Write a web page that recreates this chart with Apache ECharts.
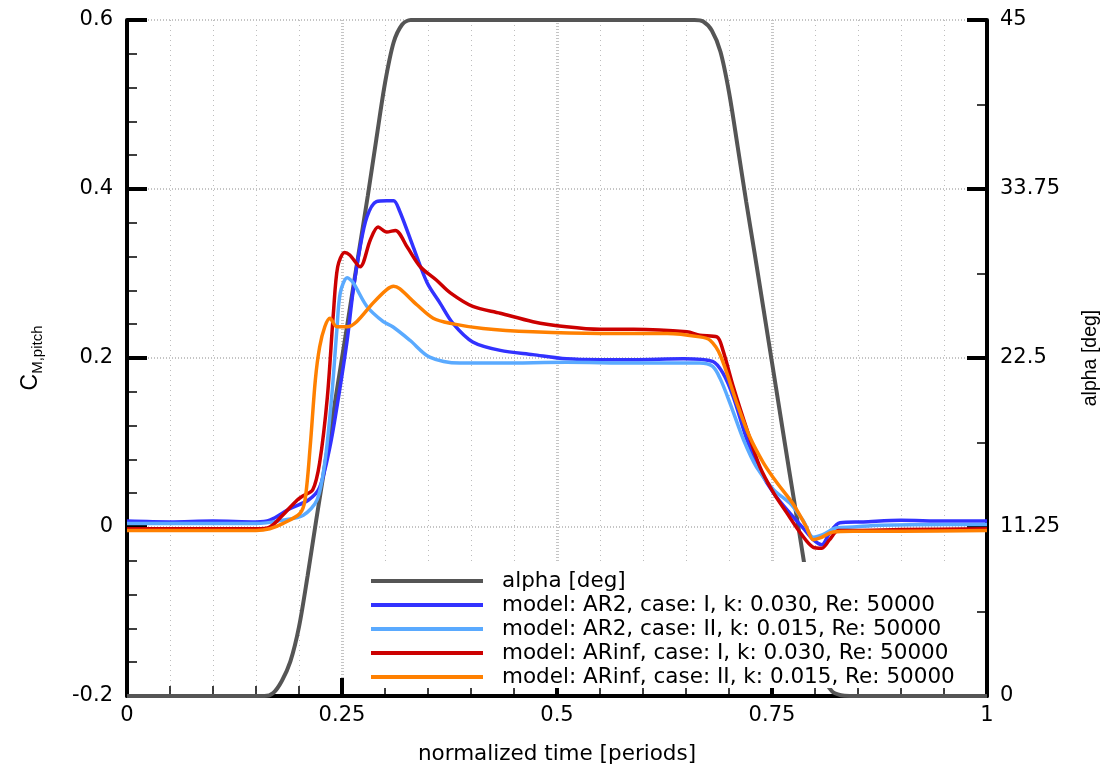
<!DOCTYPE html>
<html>
<head>
<meta charset="utf-8">
<script src="https://cdn.jsdelivr.net/npm/echarts@6/dist/echarts.min.js"></script>
<style>
html,body{margin:0;padding:0;background:#fff;}
#chart{width:1113px;height:773px;}
</style>
</head>
<body>
<div id="chart"></div>
<script>
// ---- Data ----
const xTicks = [0, 0.25, 0.5, 0.75, 1];
const leftTicks = [-0.2, 0, 0.2, 0.4, 0.6];
const rightTicks = [0, 11.25, 22.5, 33.75, 45];

const seriesNames = [
  'alpha [deg]',
  'model: AR2, case: I, k: 0.030, Re: 50000',
  'model: AR2, case: II, k: 0.015, Re: 50000',
  'model: ARinf, case: I, k: 0.030, Re: 50000',
  'model: ARinf, case: II, k: 0.015, Re: 50000'
];
const seriesColors = ['#555555', '#3232ff', '#5aaaff', '#cc0000', '#ff8000'];

const tAlpha = [0, 0.16, 0.17, 0.18, 0.19, 0.2, 0.21, 0.22, 0.23, 0.24, 0.25, 0.26, 0.27, 0.28, 0.29, 0.3, 0.31, 0.32, 0.33,
  0.66, 0.67, 0.68, 0.69, 0.7, 0.71, 0.72, 0.73, 0.74, 0.75, 0.76, 0.77, 0.78, 0.79, 0.8, 0.81, 0.82, 0.83, 0.84, 1];
const alphaDeg = [0, 0, 0.2, 1.0, 2.3, 4.6, 8.0, 11.7, 15.3, 18.9, 22.5, 26.1, 29.7, 33.3, 37.1, 40.8, 43.5, 44.7, 45,
  45, 44.9, 44.3, 42.9, 40.2, 36.6, 32.9, 29.4, 25.8, 22.2, 18.6, 15.0, 11.5, 7.9, 4.3, 1.3, 0.3, 0.05, 0, 0];

const tAR2I = [0, 0.05, 0.1, 0.15, 0.166, 0.19, 0.211, 0.224, 0.236, 0.246, 0.256, 0.263, 0.271, 0.279, 0.29, 0.302, 0.31, 0.317,
  0.333, 0.349, 0.364, 0.379, 0.402, 0.434, 0.472, 0.511, 0.55, 0.589, 0.647, 0.681, 0.693, 0.705, 0.721, 0.736, 0.752, 0.771,
  0.786, 0.798, 0.808, 0.817, 0.829, 0.856, 0.9, 0.95, 1];
const cmAR2I = [0.007, 0.006, 0.007, 0.006, 0.008, 0.022, 0.032, 0.047, 0.095, 0.154, 0.221, 0.28, 0.331, 0.367, 0.385, 0.386, 0.386, 0.374,
  0.331, 0.289, 0.265, 0.241, 0.219, 0.209, 0.204, 0.199, 0.198, 0.198, 0.199, 0.196, 0.182, 0.154, 0.103, 0.067, 0.040, 0.016,
  -0.001, -0.015, -0.021, -0.007, 0.005, 0.006, 0.008, 0.007, 0.007];

const tAR2II = [0, 0.05, 0.1, 0.15, 0.181, 0.205, 0.221, 0.23, 0.238, 0.244, 0.248, 0.256, 0.263, 0.279, 0.298, 0.309, 0.329, 0.352,
  0.387, 0.434, 0.511, 0.589, 0.666, 0.681, 0.69, 0.701, 0.717, 0.732, 0.752, 0.771, 0.786, 0.798, 0.809, 0.825, 0.844, 0.876, 0.95, 1];
const cmAR2II = [0.004, 0.004, 0.004, 0.004, 0.008, 0.014, 0.032, 0.076, 0.154, 0.233, 0.277, 0.295, 0.289, 0.261, 0.243, 0.237, 0.221, 0.201,
  0.194, 0.194, 0.195, 0.194, 0.194, 0.19, 0.175, 0.147, 0.103, 0.071, 0.044, 0.028, 0.008, -0.012, -0.009, -0.001, 0.0, 0.002, 0.003, 0.003];

const tARinfI = [0, 0.05, 0.1, 0.15, 0.166, 0.181, 0.198, 0.205, 0.216, 0.224, 0.233, 0.24, 0.245, 0.253, 0.259, 0.271, 0.283, 0.292,
  0.302, 0.312, 0.326, 0.341, 0.36, 0.376, 0.402, 0.434, 0.472, 0.511, 0.55, 0.589, 0.651, 0.666, 0.686, 0.693, 0.705, 0.721, 0.736,
  0.752, 0.767, 0.783, 0.798, 0.808, 0.817, 0.827, 0.844, 0.9, 1];
const cmARinfI = [-0.002, -0.002, -0.002, -0.002, 0.0, 0.014, 0.032, 0.037, 0.044, 0.076, 0.154, 0.253, 0.308, 0.325, 0.322, 0.308, 0.34, 0.355,
  0.349, 0.351, 0.331, 0.308, 0.292, 0.277, 0.261, 0.253, 0.243, 0.237, 0.234, 0.234, 0.231, 0.227, 0.225, 0.209, 0.166, 0.115, 0.071,
  0.040, 0.017, -0.007, -0.024, -0.025, -0.015, -0.004, -0.004, -0.003, -0.002];

const tARinfII = [0, 0.05, 0.1, 0.15, 0.166, 0.181, 0.201, 0.207, 0.213, 0.219, 0.224, 0.23, 0.236, 0.244, 0.256, 0.267, 0.286, 0.302,
  0.31, 0.317, 0.337, 0.356, 0.376, 0.414, 0.472, 0.55, 0.628, 0.666, 0.678, 0.69, 0.709, 0.724, 0.74, 0.756, 0.774, 0.79, 0.798,
  0.806, 0.821, 0.844, 0.9, 1];
const cmARinfII = [-0.004, -0.004, -0.004, -0.004, -0.002, 0.004, 0.016, 0.032, 0.095, 0.174, 0.213, 0.237, 0.247, 0.237, 0.237, 0.243, 0.265, 0.281,
  0.285, 0.282, 0.263, 0.247, 0.241, 0.235, 0.231, 0.229, 0.229, 0.225, 0.221, 0.203, 0.147, 0.107, 0.076, 0.052, 0.028, 0.0, -0.015,
  -0.013, -0.006, -0.005, -0.005, -0.004];

// ---- Build ----
function pairs(t, v) { return t.map((x, i) => [x, v[i]]); }
const seriesData = [
  pairs(tAlpha, alphaDeg),
  pairs(tAR2I, cmAR2I),
  pairs(tAR2II, cmAR2II),
  pairs(tARinfI, cmARinfI),
  pairs(tARinfII, cmARinfII)
];

const FONT = 'DejaVu Sans';
const fmt = v => String(Math.round(v * 100) / 100);

const chart = echarts.init(document.getElementById('chart'), null, {renderer: 'canvas'});
chart.setOption({
  animation: false,
  backgroundColor: '#ffffff',
  grid: {left: 127, right: 126, top: 20, bottom: 77, containLabel: false},
  legend: {
    show: true,
    left: 360,
    top: 562,
    orient: 'vertical',
    padding: [8, 13, 0, 11],
    backgroundColor: '#ffffff',
    itemWidth: 112,
    itemHeight: 4,
    itemGap: 2,
    icon: 'rect',
    selectedMode: false,
    z: 10,
    textStyle: {fontFamily: FONT, fontSize: 21.5, lineHeight: 22, color: '#000', padding: [0, 0, 0, 14]},
    data: seriesNames
  },
  xAxis: {
    type: 'value', min: xTicks[0], max: xTicks[xTicks.length - 1], interval: 0.25,
    name: 'normalized time [periods]', nameLocation: 'middle', nameGap: 47,
    nameTextStyle: {fontFamily: FONT, fontSize: 21.5, color: '#000'},
    axisLine: {onZero: false, lineStyle: {color: '#000', width: 4}},
    axisTick: {show: true, inside: true, length: 18, lineStyle: {color: '#000', width: 4}},
    minorTick: {show: true, splitNumber: 5, length: 10, lineStyle: {color: '#000', width: 1.5}},
    axisLabel: {margin: 9, fontFamily: FONT, fontSize: 21, color: '#000', formatter: fmt},
    splitLine: {show: true, lineStyle: {color: '#c4c4c4', width: 3, type: [1, 2]}},
    minorSplitLine: {show: true, lineStyle: {color: '#bdbdbd', width: 1, type: [1, 4]}}
  },
  yAxis: [
    {
      type: 'value', min: leftTicks[0], max: leftTicks[leftTicks.length - 1], interval: 0.2, position: 'left',
      name: 'C{s|M,pitch}', nameLocation: 'middle', nameRotate: 90, nameGap: 82,
      nameTextStyle: {fontFamily: 'Liberation Sans', fontSize: 23, color: '#000',
        rich: {s: {fontFamily: 'Liberation Sans', fontSize: 15, color: '#000', verticalAlign: 'bottom', padding: [13, 0, 0, 0]}}},
      axisLine: {onZero: false, lineStyle: {color: '#000', width: 4}},
      axisTick: {show: true, inside: true, length: 20, lineStyle: {color: '#000', width: 4}},
      minorTick: {show: true, splitNumber: 5, length: 10, lineStyle: {color: '#000', width: 1.5}},
      axisLabel: {margin: 14, fontFamily: FONT, fontSize: 21, color: '#000', formatter: fmt},
      splitLine: {show: true, lineStyle: {color: '#c4c4c4', width: 2, type: [1, 2]}}
    },
    {
      type: 'value', min: rightTicks[0], max: rightTicks[rightTicks.length - 1], interval: 11.25, position: 'right',
      name: 'alpha [deg]', nameLocation: 'middle', nameRotate: 90, nameGap: 94,
      nameTextStyle: {fontFamily: 'Liberation Sans', fontSize: 19.5, color: '#000'},
      axisLine: {onZero: false, lineStyle: {color: '#000', width: 4}},
      axisTick: {show: true, inside: true, length: 20, lineStyle: {color: '#000', width: 4}},
      minorTick: {show: true, splitNumber: 2, length: 10, lineStyle: {color: '#000', width: 1.5}},
      axisLabel: {margin: 13, fontFamily: FONT, fontSize: 21, color: '#000', formatter: fmt},
      splitLine: {show: false}
    }
  ],
  series: seriesNames.map((name, i) => ({
    name: name,
    type: 'line',
    yAxisIndex: i === 0 ? 1 : 0,
    data: seriesData[i],
    showSymbol: false,
    symbol: 'none',
    smooth: 0.3,
    color: seriesColors[i],
    lineStyle: {color: seriesColors[i], width: i === 0 ? 4 : 3.5},
    z: 2 + i
  }))
});
</script>
</body>
</html>
